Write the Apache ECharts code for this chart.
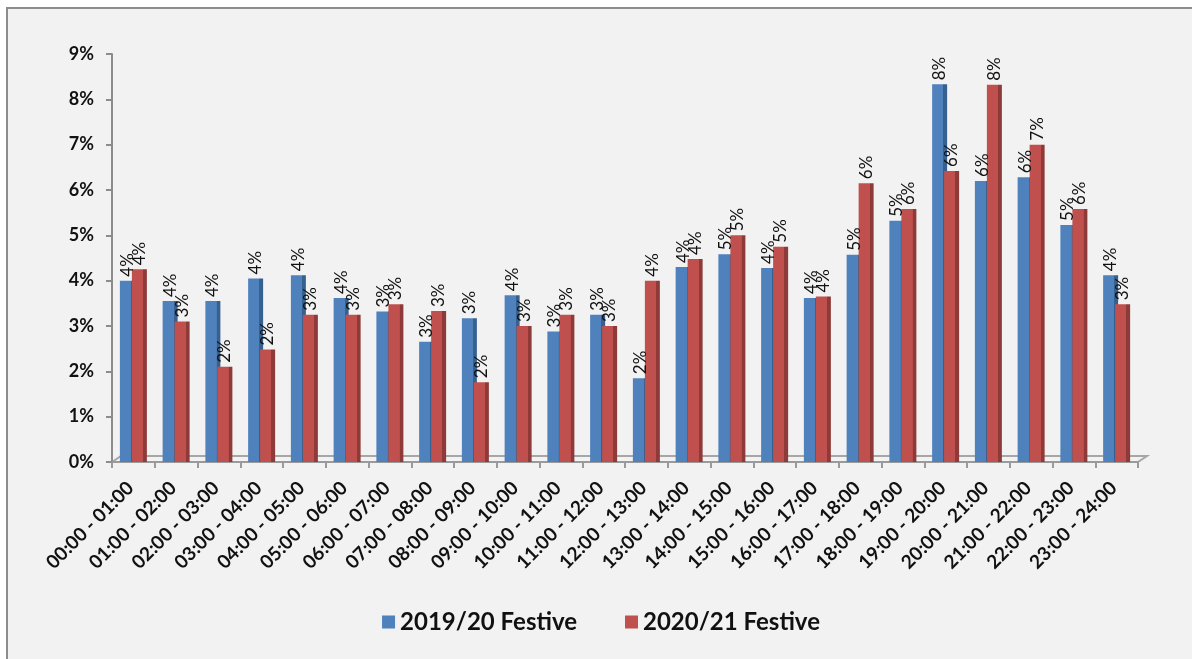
<!DOCTYPE html>
<html>
<head>
<meta charset="utf-8">
<script src="https://cdn.jsdelivr.net/npm/echarts@6/dist/echarts.min.js"></script>
<style>
  body { margin: 0; background: #ffffff; }
  #frame {
    position: absolute; left: 6px; top: 7px;
    width: 1186px; height: 652px;
    border-left: 2px solid #8c8c8c; border-top: 2px solid #8c8c8c;
    background: #f2f2f2;
  }
  #chart { width: 1186px; height: 650px; }
</style>
</head>
<body>
<div id="frame"><div id="chart"></div></div>
<script>
// time slots
const hours = [
  '00:00 - 01:00', '01:00 - 02:00', '02:00 - 03:00', '03:00 - 04:00',
  '04:00 - 05:00', '05:00 - 06:00', '06:00 - 07:00', '07:00 - 08:00',
  '08:00 - 09:00', '09:00 - 10:00', '10:00 - 11:00', '11:00 - 12:00',
  '12:00 - 13:00', '13:00 - 14:00', '14:00 - 15:00', '15:00 - 16:00',
  '16:00 - 17:00', '17:00 - 18:00', '18:00 - 19:00', '19:00 - 20:00',
  '20:00 - 21:00', '21:00 - 22:00', '22:00 - 23:00', '23:00 - 24:00'
];
// share of transactions, %
const festive1920 = [4.0, 3.55, 3.55, 4.05, 4.12, 3.62, 3.32, 2.65, 3.17, 3.68, 2.88, 3.25,
                     1.85, 4.3, 4.58, 4.28, 3.62, 4.57, 5.32, 8.33, 6.2, 6.28, 5.23, 4.12];
const festive2021 = [4.25, 3.1, 2.1, 2.48, 3.25, 3.25, 3.48, 3.33, 1.76, 3.0, 3.25, 3.0,
                     4.0, 4.48, 5.0, 4.75, 3.65, 6.15, 5.58, 6.42, 8.32, 7.0, 5.58, 3.48];
const yTicks = [0, 1, 2, 3, 4, 5, 6, 7, 8, 9];

const font = 'Lato, "Open Sans", sans-serif';
const blue = '#4f81bd', red = '#c0504d';

// fake 3d side face with a hard gradient stop
function face(front, side) {
  return new echarts.graphic.LinearGradient(0, 0, 1, 0, [
    { offset: 0, color: front },
    { offset: 0.74, color: front },
    { offset: 0.75, color: side },
    { offset: 1, color: side }
  ]);
}

const lbl = {
  show: true,
  position: 'top',
  rotate: 90,
  align: 'left',
  verticalAlign: 'middle',
  distance: 4,
  color: '#111',
  fontFamily: font,
  fontSize: 17,
  formatter: p => Math.round(p.value) + '%'
};

// grid box (also used for the floor outline)
const G = { left: 104, right: 56, top: 45, bottom: 197, w: 1186, h: 650 };
const x0 = G.left, x1 = G.w - G.right, y0 = G.h - G.bottom, dx = 9, dy = 6;

const chart = echarts.init(document.getElementById('chart'));
chart.setOption({
  backgroundColor: '#f2f2f2',
  animation: false,
  grid: { left: G.left, right: G.right, top: G.top, bottom: G.bottom },
  graphic: [{
    type: 'polyline',
    z: 0,
    shape: { points: [[x0, y0], [x0 + dx, y0 - dy], [x1 + dx, y0 - dy], [x1, y0]] },
    style: { fill: 'none', stroke: '#a6a6a6', lineWidth: 2 }
  }],
  legend: {
    bottom: 20,
    left: 'center',
    itemWidth: 13,
    itemHeight: 13,
    itemGap: 48,
    icon: 'rect',
    data: [
      { name: '2019/20 Festive', itemStyle: { color: blue } },
      { name: '2020/21 Festive', itemStyle: { color: red } }
    ],
    textStyle: { fontFamily: font, fontSize: 24, fontWeight: 'bold', color: '#111' }
  },
  xAxis: {
    type: 'category',
    data: hours,
    axisLine: { lineStyle: { color: '#9a9a9a', width: 2 } },
    axisTick: { show: true, length: 6, lineStyle: { color: '#9a9a9a', width: 2 } },
    axisLabel: {
      interval: 0,
      rotate: 45,
      margin: 20,
      padding: [0, 4, 0, 0],
      color: '#111',
      fontFamily: font,
      fontSize: 19,
      fontWeight: 'bold'
    }
  },
  yAxis: {
    type: 'value',
    min: yTicks[0],
    max: yTicks[yTicks.length - 1],
    interval: 1,
    splitLine: { show: false },
    axisLine: { show: true, lineStyle: { color: '#8c8c8c', width: 2 } },
    axisTick: { show: true, length: 6, lineStyle: { color: '#8c8c8c', width: 2 } },
    axisLabel: {
      margin: 18,
      color: '#111',
      fontFamily: font,
      fontSize: 18,
      fontWeight: 'bold',
      formatter: '{value}%'
    }
  },
  series: [
    {
      name: '2019/20 Festive',
      type: 'bar',
      data: festive1920,
      barWidth: 15,
      barGap: '-20%',
      color: blue,
      itemStyle: { color: face(blue, '#35608f') },
      label: lbl
    },
    {
      name: '2020/21 Festive',
      type: 'bar',
      data: festive2021,
      barWidth: 15,
      color: red,
      itemStyle: { color: face(red, '#8e3a38') },
      label: lbl
    }
  ]
});
</script>
</body>
</html>
